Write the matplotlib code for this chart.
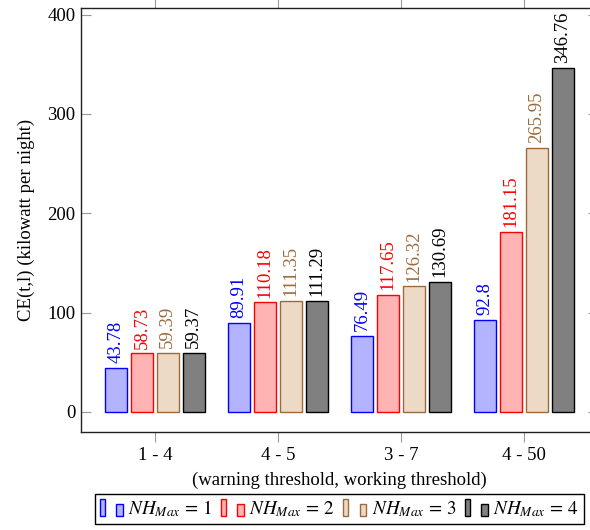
import numpy as np
import matplotlib
matplotlib.use("Agg")
import matplotlib.pyplot as plt
from matplotlib.patches import Rectangle
from matplotlib.legend_handler import HandlerBase

# data
groups = ["1 - 4", "4 - 5", "3 - 7", "4 - 50"]
nh1 = [43.78, 89.91, 76.49, 92.8]
nh2 = [58.73, 110.18, 117.65, 181.15]
nh3 = [59.39, 111.35, 126.32, 265.95]
nh4 = [59.37, 111.29, 130.69, 346.76]
series_names = [r"$NH_{Max}\,=\,1$", r"$NH_{Max}\,=\,2$",
                r"$NH_{Max}\,=\,3$", r"$NH_{Max}\,=\,4$"]
label_texts = [
    ["43.78", "89.91", "76.49", "92.8"],
    ["58.73", "110.18", "117.65", "181.15"],
    ["59.39", "111.35", "126.32", "265.95"],
    ["59.37", "111.29", "130.69", "346.76"],
]

# pgfplots-like colours (colour!30 fills)
edge_cols = ["#0000ff", "#ff0000", "#9c6b3c", "#000000"]
fill_cols = ["#b3b3ff", "#ffb3b3", "#ecd9c6", "#808080"]

plt.rcParams["font.family"] = ["Liberation Serif", "DejaVu Serif"]
plt.rcParams["mathtext.fontset"] = "stix"
plt.rcParams["font.size"] = 13.5


class TwoBarHandler(HandlerBase):
    # pgfplots ybar legend image: two little bars
    def create_artists(self, legend, orig_handle, xdescent, ydescent,
                       width, height, fontsize, trans):
        fc = orig_handle.get_facecolor()
        ec = orig_handle.get_edgecolor()
        h = height * 1.25
        r1 = Rectangle((-xdescent, -ydescent - 1), width * 0.22, h,
                       facecolor=fc, edgecolor=ec, lw=1, transform=trans)
        r2 = Rectangle((-xdescent + width * 0.72, -ydescent - 1), width * 0.28, h * 0.75,
                       facecolor=fc, edgecolor=ec, lw=1, transform=trans)
        return [r1, r2]


fig = plt.figure(figsize=(5.9, 5.3), dpi=100)
ax = fig.add_axes([81 / 590, 1 - 432 / 530, 517 / 590, 424.5 / 530])

x = np.arange(len(groups))
offsets = [-0.315, -0.105, 0.105, 0.315]
width = 0.18
all_series = [nh1, nh2, nh3, nh4]
handles = []
for i, vals in enumerate(all_series):
    bars = ax.bar(x + offsets[i], vals, width, color=fill_cols[i],
                  edgecolor=edge_cols[i], linewidth=1, label=series_names[i])
    handles.append(bars.patches[0])
    for j, v in enumerate(vals):
        ax.annotate(label_texts[i][j], (x[j] + offsets[i], v), xytext=(0, 3.5),
                    textcoords="offset points", rotation=90, ha="center", va="bottom",
                    color=edge_cols[i], fontsize=13.5)

ax.set_xlim(-0.6, 3.6)
ax.set_ylim(-20.4, 407.3)
ax.set_xticks(x)
ax.set_xticklabels(groups)
ax.set_yticks([0, 100, 200, 300, 400])
ax.tick_params(axis="x", direction="out", length=7, color="#999999", top=True,
               pad=4)
ax.tick_params(axis="y", direction="in", length=7, color="#999999", right=True,
               pad=4)
for s in ax.spines.values():
    s.set_linewidth(1)
    s.set_color("#222222")

ax.set_ylabel("CE(t,l) (kilowatt per night)", fontsize=13.5, labelpad=9)
ax.set_xlabel("(warning threshold, working threshold)", labelpad=5)

fig.legend(handles, series_names, handler_map={Rectangle: TwoBarHandler()},
           loc="upper center", bbox_to_anchor=(339.5 / 590, 1 - 494 / 530),
           ncol=4, frameon=True, fancybox=False, edgecolor="black",
           framealpha=1, borderaxespad=0, borderpad=0.25, handlelength=1.2,
           handletextpad=0.3, columnspacing=0.4, fontsize=13.8)
fig.legends[0].get_frame().set_linewidth(1)

plt.savefig("out.png", dpi=100)
